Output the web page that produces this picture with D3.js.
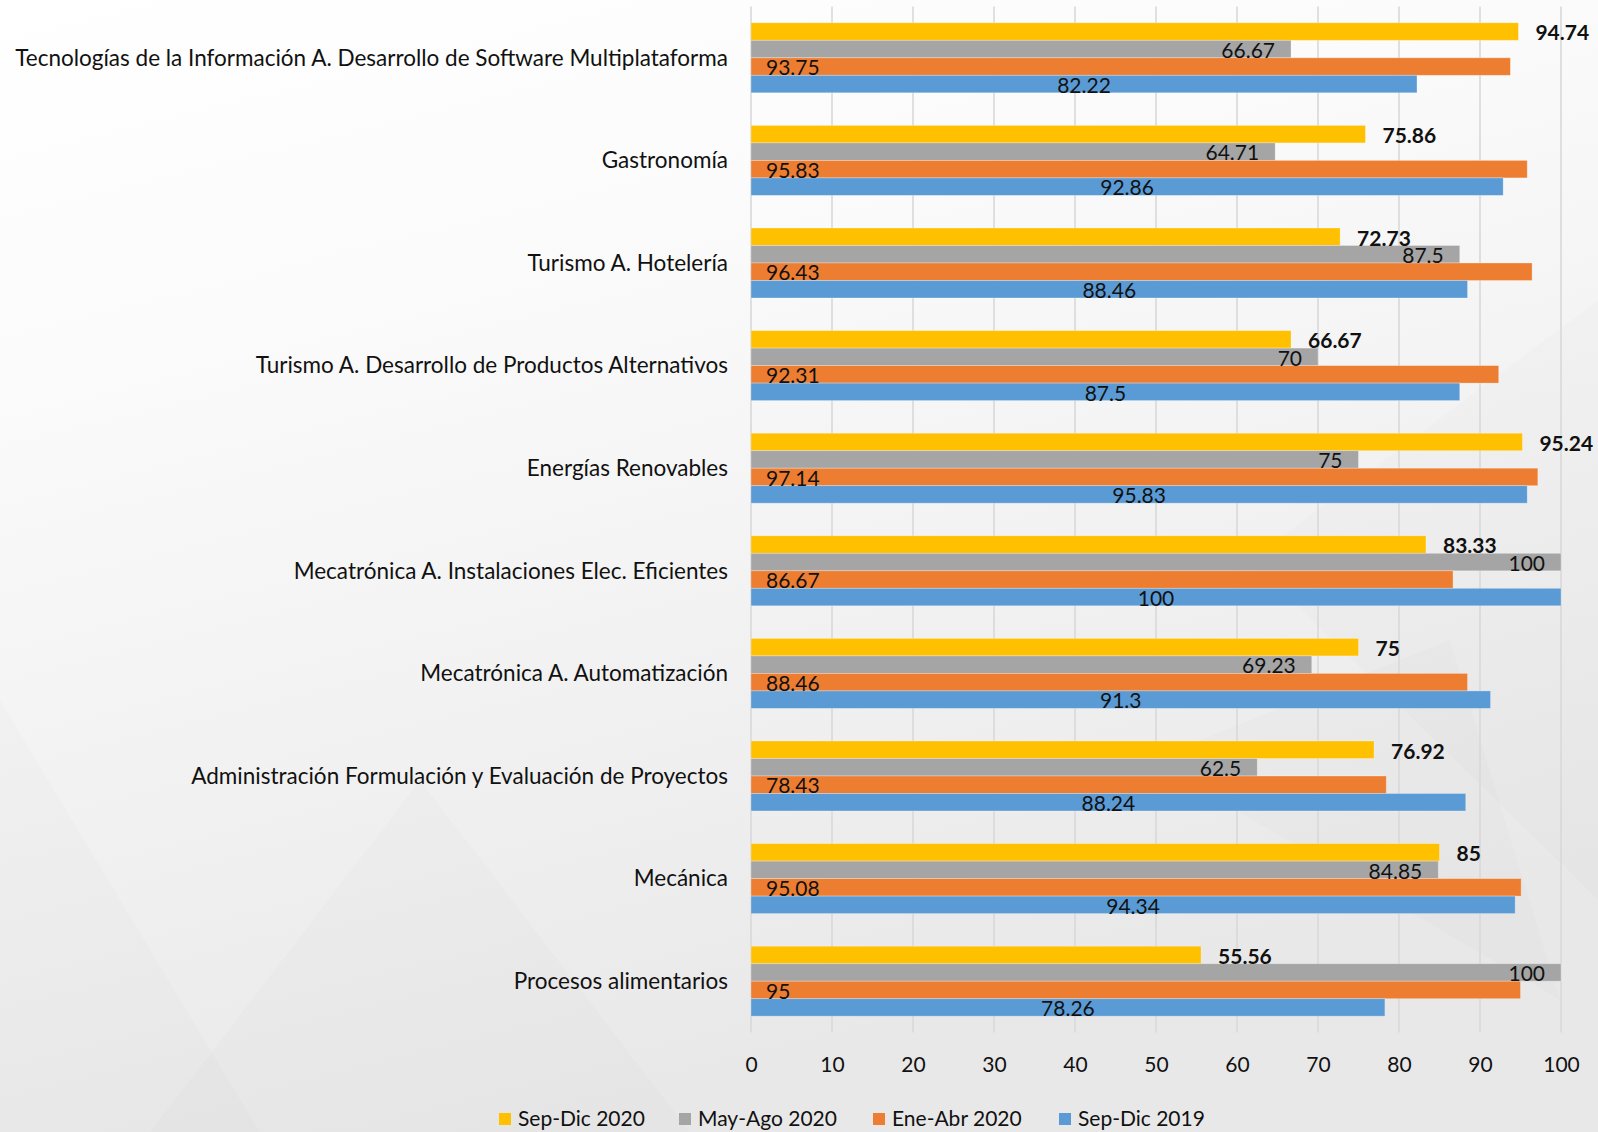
<!doctype html>
<html>

<head>
    <meta charset="UTF-8">
    <title>Eficiencia terminal por programa</title>
    <script src="https://d3js.org/d3.v7.min.js"></script>
    <style>
        html, body {
            margin: 0;
            padding: 0;
            background: #ffffff;
        }

        svg text {
            font-family: Lato, "Open Sans", sans-serif;
            fill: #111;
        }
    </style>
</head>

<body>
    <svg width="1598" height="1132"></svg>

    <script>
        // categorias, de arriba hacia abajo
        var categories = [
            "Tecnologías de la Información A. Desarrollo de Software Multiplataforma",
            "Gastronomía",
            "Turismo A. Hotelería",
            "Turismo A. Desarrollo de Productos Alternativos",
            "Energías Renovables",
            "Mecatrónica A. Instalaciones Elec. Eficientes",
            "Mecatrónica A. Automatización",
            "Administración Formulación y Evaluación de Proyectos",
            "Mecánica",
            "Procesos alimentarios"
        ];

        var seriesNames = ["Sep-Dic 2020", "May-Ago 2020", "Ene-Abr 2020", "Sep-Dic 2019"];

        var sepDic2020 = [94.74, 75.86, 72.73, 66.67, 95.24, 83.33, 75, 76.92, 85, 55.56];
        var mayAgo2020 = [66.67, 64.71, 87.5, 70, 75, 100, 69.23, 62.5, 84.85, 100];
        var eneAbr2020 = [93.75, 95.83, 96.43, 92.31, 97.14, 86.67, 88.46, 78.43, 95.08, 95];
        var sepDic2019 = [82.22, 92.86, 88.46, 87.5, 95.83, 100, 91.3, 88.24, 94.34, 78.26];

        var xTicks = [0, 10, 20, 30, 40, 50, 60, 70, 80, 90, 100];

        var colors = ["#FFC000", "#A5A5A5", "#ED7D31", "#5B9BD5"];
        var seriesValues = [sepDic2020, mayAgo2020, eneAbr2020, sepDic2019];

        var svg = d3.select("svg");

        // fondo
        var defs = svg.append("defs");
        var grad = defs.append("linearGradient")
            .attr("id", "bg")
            .attr("x1", 0).attr("y1", 0).attr("x2", 0.35).attr("y2", 1);
        grad.append("stop").attr("offset", "0%").attr("stop-color", "#ffffff");
        grad.append("stop").attr("offset", "30%").attr("stop-color", "#fbfbfb");
        grad.append("stop").attr("offset", "100%").attr("stop-color", "#e8e8e8");

        svg.append("rect")
            .attr("width", 1598)
            .attr("height", 1132)
            .attr("fill", "url(#bg)");

        // figuras tenues del fondo
        var shapes = [
            "M1250,560 L1598,300 L1598,900 Z",
            "M1150,760 L1450,640 L1560,1000 Z",
            "M0,700 L260,1132 L0,1132 Z",
            "M150,1132 L420,780 L690,1132 Z"
        ];
        svg.selectAll("path.bgshape")
            .data(shapes)
            .enter().append("path")
            .attr("class", "bgshape")
            .attr("d", function(d) { return d; })
            .attr("fill", "#000")
            .attr("opacity", 0.012);

        var x0 = 751, x1 = 1561, yTop = 6.5, yBottom = 1032.5;

        var x = d3.scaleLinear().domain([0, 100]).range([x0, x1]);
        var y = d3.scaleBand().domain(categories).range([yTop, yBottom]).paddingInner(0.318).paddingOuter(0.159);
        var ySub = d3.scaleBand().domain(seriesNames).range([0, y.bandwidth()]);

        // rejilla
        svg.append("g")
            .selectAll("line")
            .data(xTicks)
            .enter().append("line")
            .attr("x1", function(d) { return x(d); })
            .attr("x2", function(d) { return x(d); })
            .attr("y1", yTop)
            .attr("y2", yBottom)
            .attr("stroke", "#d9d9d9")
            .attr("stroke-width", 1.6);

        // eje x
        var xAxis = d3.axisBottom(x).tickValues(xTicks).tickSize(0).tickPadding(0);
        var gx = svg.append("g")
            .attr("transform", "translate(0," + yBottom + ")")
            .call(xAxis);
        gx.select(".domain").remove();
        gx.selectAll("text")
            .attr("y", 39)
            .attr("dy", 0)
            .style("font-size", "21px")
            .style("font-family", "Lato, sans-serif")
            .attr("fill", "#111");

        // etiquetas de categoria
        svg.append("g")
            .selectAll("text")
            .data(categories)
            .enter().append("text")
            .attr("x", 728)
            .attr("y", function(d) { return y(d) + y.bandwidth() / 2; })
            .attr("dy", "0.35em")
            .attr("text-anchor", "end")
            .style("font-size", "22.5px")
            .text(function(d) { return d; });

        // barras
        var groups = svg.append("g")
            .selectAll("g")
            .data(categories)
            .enter().append("g")
            .attr("transform", function(d) { return "translate(0," + y(d) + ")"; });

        seriesNames.forEach(function(s, si) {
            groups.append("rect")
                .attr("x", x(0))
                .attr("y", ySub(s))
                .attr("width", function(d, i) { return x(seriesValues[si][i]) - x(0); })
                .attr("height", ySub.bandwidth())
                .attr("fill", colors[si])
                .attr("stroke", "rgba(255,255,255,0.35)")
                .attr("stroke-width", 0.8);
        });

        // etiquetas de datos
        seriesNames.forEach(function(s, si) {
            groups.append("text")
                .attr("x", function(d, i) {
                    var v = seriesValues[si][i];
                    if (si === 0) return x(v) + 17;
                    if (si === 1) return x(v) - 16;
                    if (si === 2) return x(0) + 15;
                    return x(v / 2);
                })
                .attr("y", ySub(s) + ySub.bandwidth())
                .attr("text-anchor", si === 1 ? "end" : (si === 3 ? "middle" : "start"))
                .style("font-size", "21px")
                .style("font-weight", si === 0 ? "bold" : "normal")
                .text(function(d, i) { return seriesValues[si][i]; });
        });

        // leyenda
        var legendX = [499, 679, 873, 1059];
        var legend = svg.append("g")
            .selectAll("g")
            .data(seriesNames)
            .enter().append("g")
            .attr("transform", function(d, i) { return "translate(" + legendX[i] + ",1119)"; });

        legend.append("rect")
            .attr("x", 0)
            .attr("y", -6)
            .attr("width", 12)
            .attr("height", 12)
            .attr("fill", function(d, i) { return colors[i]; });

        legend.append("text")
            .attr("x", 19)
            .attr("y", 0)
            .attr("dy", "0.35em")
            .style("font-size", "21px")
            .text(function(d) { return d; });
    </script>
</body>

</html>
